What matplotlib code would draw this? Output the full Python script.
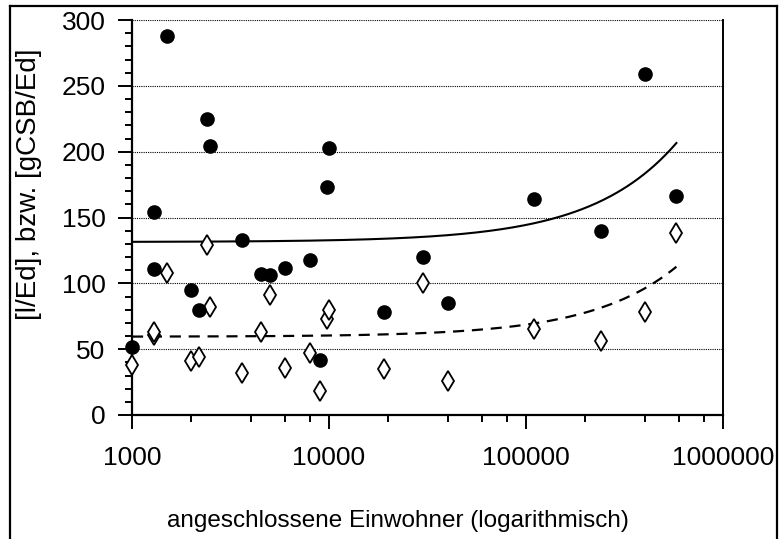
import numpy as np
import matplotlib
matplotlib.use("Agg")
import matplotlib.pyplot as plt
from matplotlib.lines import Line2D
from matplotlib.ticker import FixedLocator, NullFormatter

# angeschlossene Einwohner (x) und spezifische Werte (y)
einwohner = [1000, 1300, 1300, 1500, 2000, 2200, 2400, 2500, 3600, 4500, 5000, 6000,
             8000, 9000, 9800, 10000, 19000, 30000, 40000, 110000, 240000, 400000, 580000]
csb_werte = [52, 154, 111, 288, 95, 80, 225, 204, 133, 107, 106, 112,
             118, 42, 173, 203, 78, 120, 85, 164, 140, 259, 166]
wasser_werte = [38, 61, 63, 108, 41, 44, 129, 82, 32, 63, 91, 36,
                47, 18, 73, 80, 35, 100, 26, 65, 56, 78, 138]

x_ticks = [1000, 10000, 100000, 1000000]
x_ticklabels = ["1000", "10000", "100000", "1000000"]
y_ticks = [0, 50, 100, 150, 200, 250, 300]

plt.rcParams['font.family'] = ['Liberation Sans', 'DejaVu Sans']

W, H = 780, 539
fig = plt.figure(figsize=(W / 100, H / 100), dpi=100)
ax = fig.add_axes([132 / W, 1 - 415 / H, (723 - 132) / W, (415 - 20) / H])

x = np.array(einwohner, dtype=float)
xs = np.geomspace(x.min(), x.max(), 300)

# lineare Trendlinien (least squares)
b1, a1 = np.polyfit(x, csb_werte, 1)
b2, a2 = np.polyfit(x, wasser_werte, 1)
ax.plot(xs, a1 + b1 * xs, color="black", lw=1.5, zorder=2)
ax.plot(xs, a2 + b2 * xs, color="black", lw=1.6, ls=(0, (5, 3.5)), zorder=2)

ax.plot(x, csb_werte, "o", color="black", ms=9.5, ls="none", clip_on=False, zorder=4)
ax.plot(x, wasser_werte, "d", mfc="white", mec="black", mew=1.3, ms=10,
        ls="none", clip_on=False, zorder=3)

ax.set_xscale("log")
ax.set_xlim(1000, 1000000)
ax.set_ylim(0, 300)
ax.set_xticks(x_ticks)
ax.set_xticklabels(x_ticklabels)
minors = [m * 10 ** e for e in range(3, 6) for m in (2, 4, 6, 8)]
ax.xaxis.set_minor_locator(FixedLocator(minors))
ax.xaxis.set_minor_formatter(NullFormatter())
ax.set_yticks(y_ticks)
ax.yaxis.set_minor_locator(FixedLocator(np.arange(0, 301, 10)))

ax.tick_params(axis="both", which="major", length=10, width=1.4, direction="out",
               labelsize=19, color="black")
ax.tick_params(axis="both", which="minor", length=5, width=1.4, direction="out",
               color="black")
ax.tick_params(axis="y", which="major", pad=9)
ax.tick_params(axis="x", which="major", pad=12)

for v in y_ticks[1:]:
    ax.axhline(v, color="black", lw=0.8, ls=(0, (1, 1)), zorder=1)

ax.spines["top"].set_visible(False)
ax.spines["left"].set_linewidth(1.6)
ax.spines["bottom"].set_linewidth(1.6)
ax.spines["right"].set_linewidth(1.4)

fig.text(29 / W, 1 - 184 / H, "[l/Ed], bzw. [gCSB/Ed]", rotation=90,
         ha="center", va="center", fontsize=20)
fig.text(398 / W, 1 - 521 / H, "angeschlossene Einwohner (logarithmisch)",
         ha="center", va="center", fontsize=17.5)

# Rahmen um die Grafik
xl, xr, yt = 10 / W, 777 / W, 1 - 6 / H
for xd, yd in [([xl, xl], [-0.05, yt]), ([xl, xr], [yt, yt]), ([xr, xr], [yt, -0.05])]:
    fig.add_artist(Line2D(xd, yd, color="black", lw=1.6, transform=fig.transFigure))

fig.savefig("out.png", dpi=100)
